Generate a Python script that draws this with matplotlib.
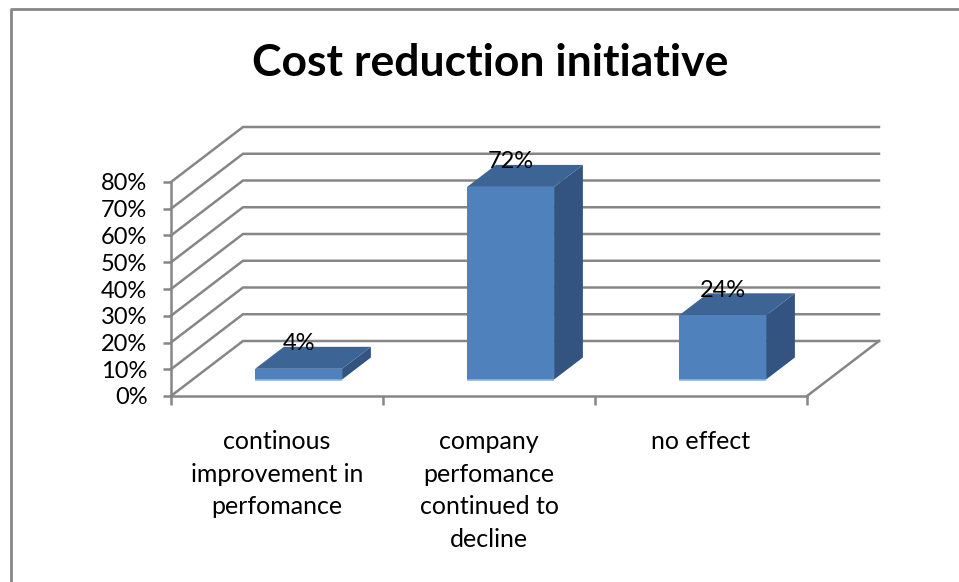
#!/usr/bin/python

"""
Cost reduction initiative, fake 3D column chart
"""

from matplotlib import pyplot as plt
from matplotlib.lines import Line2D
from matplotlib.patches import Polygon
from matplotlib.transforms import ScaledTranslation

W, H = 959, 582

TITLE = "Cost reduction initiative"
categories = ["continous\nimprovement in\nperfomance",
              "company\nperfomance\ncontinued to\ndecline",
              "no effect"]
values = [4, 72, 24]
labels = ["4%", "72%", "24%"]
y_ticks = [0, 10, 20, 30, 40, 50, 60, 70, 80]

GREY = "#868686"
FRONT = "#4f81bd"
TOP = "#3c6494"
SIDE = "#335480"
EDGE = "#8fb3e0"

# depth of the box in data units (72px across, 55px up)
DEPTH_X = 72 / 212
DEPTH_Y = 55 / 2.675
BAR_W = 87 / 212

plt.rcParams["font.family"] = ["Lato", "DejaVu Sans"]


def proj(x, y, d):
    """data position at depth d (0 front, 1 back wall)"""
    return x + d * DEPTH_X, y + d * DEPTH_Y


def add_bar(ax, i, value, label):
    x0 = i + 0.5 - BAR_W / 2
    x1 = x0 + BAR_W
    d0, d1 = 0.3, 0.7
    a = proj(x0, 0, d0)
    b = proj(x1, 0, d0)
    c = proj(x1, value, d0)
    e = proj(x0, value, d0)
    f = proj(x0, value, d1)
    g = proj(x1, value, d1)
    h = proj(x1, 0, d1)
    ax.add_patch(Polygon([b, h, g, c], color=SIDE, lw=0, zorder=3, clip_on=False))
    ax.add_patch(Polygon([e, c, g, f], color=TOP, lw=0, zorder=3, clip_on=False))
    ax.add_patch(Polygon([a, b, c, e], color=FRONT, lw=0, zorder=4, clip_on=False))
    ax.plot([a[0], b[0]], [a[1], b[1]], color=EDGE, lw=1.2, zorder=5,
            solid_capstyle="butt", clip_on=False)
    ax.annotate(label, proj(i + 0.5, value, d0), xytext=(0, 18),
                textcoords="offset points", ha="center", va="center",
                fontsize=17, color="black", zorder=6, annotation_clip=False)


def main():
    fig = plt.figure(figsize=(W / 100, H / 100), dpi=100)
    ax = fig.add_axes([171 / W, (H - 396) / H, 636 / W, 214 / H])
    ax.set_xlim(0, 3)
    ax.set_ylim(0, 80)

    # outer frame, only top and left show
    fig.add_artist(Line2D([11 / W, 11 / W, 1], [0, 1 - 9 / H, 1 - 9 / H],
                          color=GREY, lw=2))

    for v in y_ticks:
        bx, by = proj(0, v, 1)
        ex, ey = proj(3, v, 1)
        ax.plot([0, bx, ex], [v, by, ey], color=GREY, lw=1.8, zorder=1,
                clip_on=False, solid_joinstyle="miter")
    fx, fy = proj(3, 0, 1)
    ax.plot([3, fx], [0, fy], color=GREY, lw=1.8, zorder=1, clip_on=False)

    for s in ["top", "right"]:
        ax.spines[s].set_visible(False)
    for s in ["left", "bottom"]:
        ax.spines[s].set_color(GREY)
        ax.spines[s].set_linewidth(1.8)
    ax.patch.set_alpha(0)

    ax.set_yticks(y_ticks)
    ax.set_yticklabels([f"{v}%" for v in y_ticks], fontsize=17)
    # labels sit a little under their ticks
    shift = ScaledTranslation(0, -2 / 100, fig.dpi_scale_trans)
    for t in ax.get_yticklabels():
        t.set_transform(t.get_transform() + shift)
    ax.set_xticks([0, 1, 2, 3])
    ax.set_xticklabels([])
    ax.tick_params(axis="y", length=6, width=1.8, color=GREY, pad=11)
    ax.tick_params(axis="x", length=6.5, width=1.8, color=GREY)

    for i, (v, lab) in enumerate(zip(values, labels)):
        add_bar(ax, i, v, lab)

    for i, cat in enumerate(categories):
        ax.annotate(cat, (i + 0.5, 0), xytext=(0, -24.5), textcoords="offset points",
                    ha="center", va="top", fontsize=18, linespacing=1.5,
                    annotation_clip=False)

    fig.text(490 / W, 1 - 63 / H, TITLE, ha="center", va="center",
             fontsize=32, fontweight="bold")

    fig.savefig("out.png", dpi=100)


if __name__ == "__main__":
    main()
